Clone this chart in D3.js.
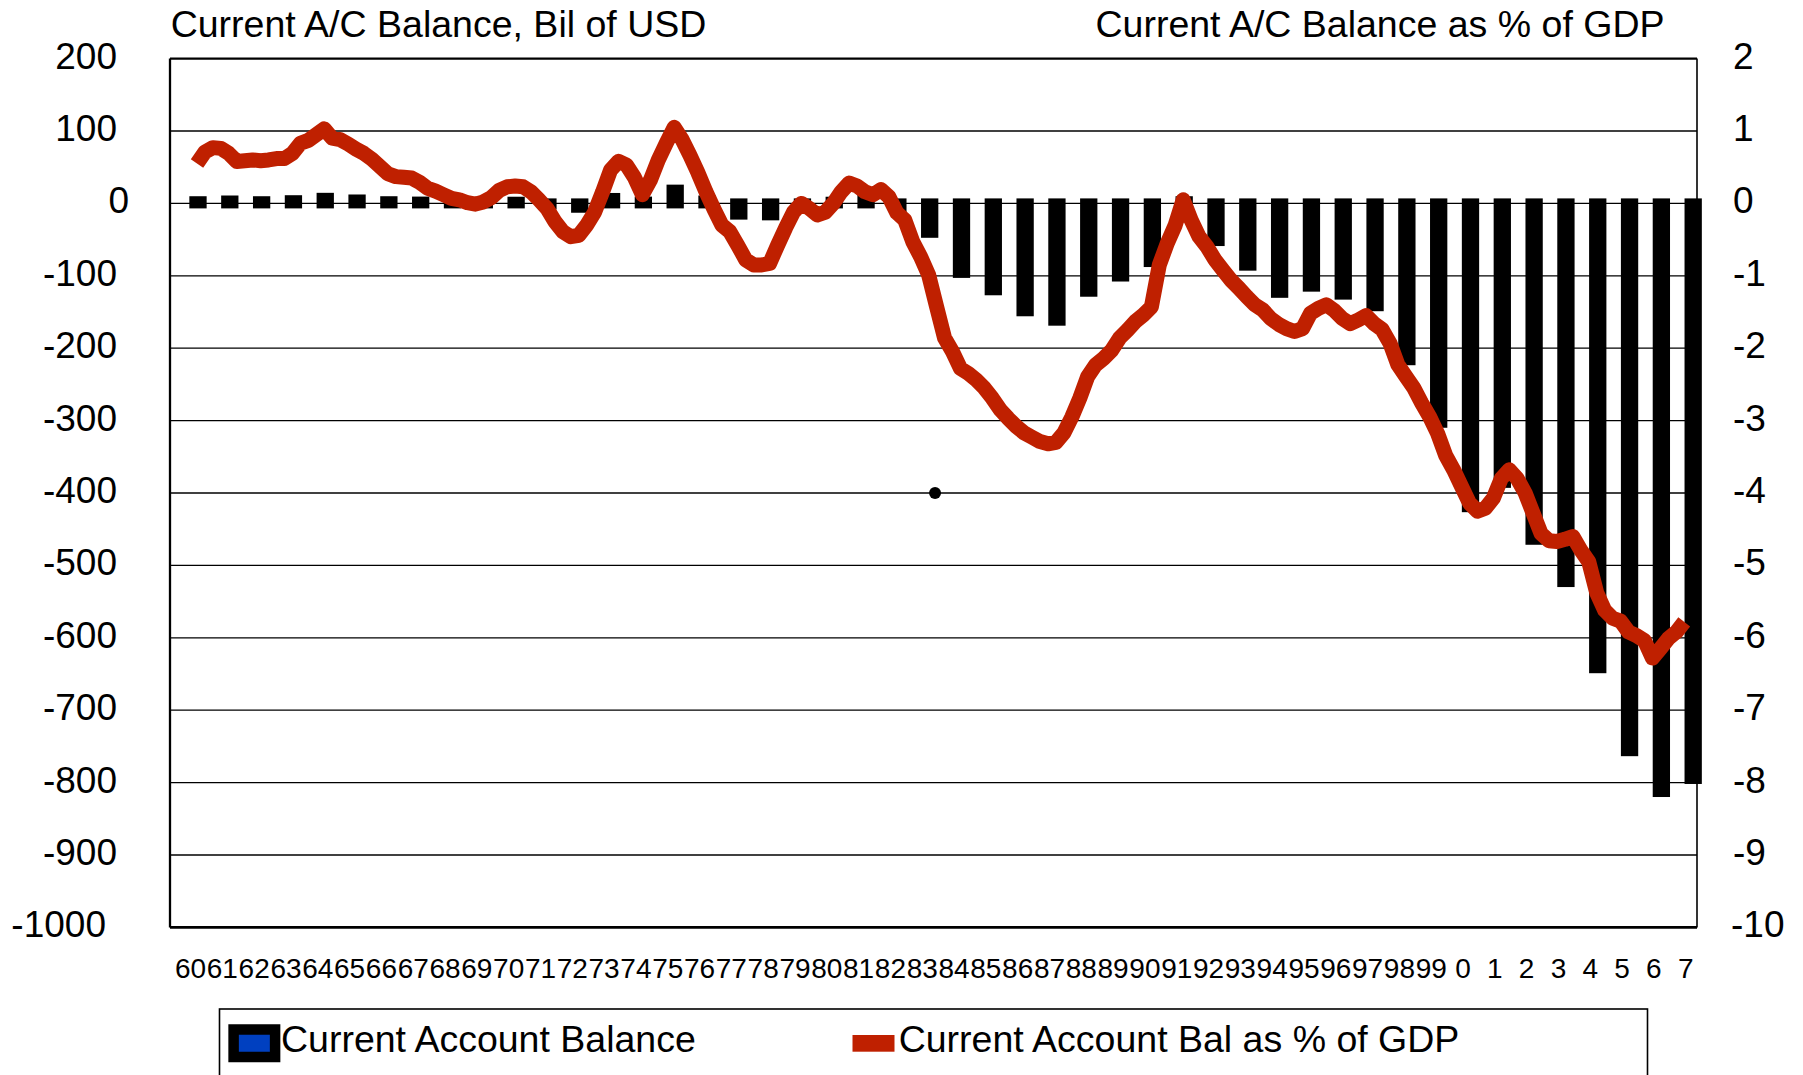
<!DOCTYPE html>
<html><head><meta charset="utf-8">
<script src="https://cdn.jsdelivr.net/npm/d3@7"></script>
<style>
body{margin:0;background:#fff}
svg{display:block}
text{font-family:"Liberation Sans",Arial,sans-serif;fill:#000}
</style>
</head><body>
<svg id="chart" width="1803" height="1075"></svg>
<script>
// ---------- DATA ----------
const categories = [1960,1961,1962,1963,1964,1965,1966,1967,1968,1969,
  1970,1971,1972,1973,1974,1975,1976,1977,1978,1979,
  1980,1981,1982,1983,1984,1985,1986,1987,1988,1989,
  1990,1991,1992,1993,1994,1995,1996,1997,1998,1999,
  2000,2001,2002,2003,2004,2005,2006,2007];
const tickLabels = ["60","61","62","63","64","65","66","67","68","69",
  "70","71","72","73","74","75","76","77","78","79",
  "80","81","82","83","84","85","86","87","88","89",
  "90","91","92","93","94","95","96","97","98","99",
  "0","1","2","3","4","5","6","7"];
// Current account balance, billions of USD (annual bars)
const balanceBil = [3,4,3,4.4,7.7,5.4,3,2.5,0.6,0.4,
  2.3,-1.4,-6,7.5,2.5,19,4,-15.5,-16.5,-0.3,
  2.3,5,-5.5,-40.6,-96,-120,-149,-162,-122,-101,
  -81,3,-52,-86,-123.5,-115,-126,-142,-216.6,-303,
  -419.6,-386,-464.6,-523,-642,-756.6,-813,-795];
// Current account balance as % of GDP, quarterly from 1960 Q1
const lineStartYear = 1960;
const pctGdpQuarterly = [
  0.55,0.71,0.77,0.76, 0.69,0.58,0.59,0.60, 0.59,0.60,0.62,0.62, 0.69,0.83,0.87,0.95,
  1.03,0.90,0.88,0.82, 0.75,0.69,0.61,0.51, 0.41,0.37,0.36,0.35, 0.29,0.21,0.17,0.12,
  0.07,0.05,0.01,-0.01, 0.02,0.08,0.18,0.23, 0.24,0.23,0.16,0.05, -0.07,-0.25,-0.39,-0.46,
  -0.44,-0.30,-0.12,0.16, 0.46,0.58,0.53,0.36, 0.12,0.32,0.60,0.83, 1.05,0.88,0.66,0.42,
  0.16,-0.08,-0.30,-0.39, -0.58,-0.78,-0.85,-0.85, -0.83,-0.58,-0.34,-0.12, 0.00,-0.07,-0.16,-0.12,
  0.00,0.16,0.28,0.24, 0.16,0.12,0.19,0.09, -0.13,-0.23,-0.53,-0.74, -0.99,-1.43,-1.86,-2.05,
  -2.28,-2.35,-2.44,-2.55, -2.69,-2.85,-2.97,-3.08, -3.17,-3.23,-3.29,-3.32, -3.30,-3.17,-2.95,-2.69,
  -2.39,-2.23,-2.14,-2.03, -1.86,-1.75,-1.63,-1.54, -1.43,-0.85,-0.55,-0.30, 0.05,-0.23,-0.46,-0.60,
  -0.78,-0.92,-1.06,-1.17, -1.29,-1.40,-1.47,-1.59, -1.67,-1.73,-1.77,-1.73, -1.52,-1.45,-1.40,-1.48,
  -1.59,-1.66,-1.61,-1.55, -1.66,-1.74,-1.93,-2.23, -2.39,-2.55,-2.76,-2.95, -3.18,-3.48,-3.68,-3.91,
  -4.14,-4.25,-4.21,-4.07, -3.80,-3.68,-3.80,-4.00, -4.28,-4.56,-4.66,-4.67, -4.64,-4.60,-4.79,-4.95,
  -5.38,-5.62,-5.73,-5.77, -5.92,-5.97,-6.04,-6.28, -6.15,-6.01,-5.92,-5.78];
// stray marker point in the original
const strayPoint = [{year:1983.2, value:-400}];
const leftTicks = [200,100,0,-100,-200,-300,-400,-500,-600,-700,-800,-900,-1000];
const rightTicks = [2,1,0,-1,-2,-3,-4,-5,-6,-7,-8,-9,-10];
const leftTitle = "Current A/C Balance, Bil of USD";
const rightTitle = "Current A/C Balance as % of GDP";
const legendItems = ["Current Account Balance","Current Account Bal as % of GDP"];

// ---------- LAYOUT ----------
const L = 170, R = 1697, T = 58.6, B = 927.4;
const RED = "#BF2000", BLUE = "#0040C0";
const FONT = '"Liberation Sans",Arial,sans-serif';
const svg = d3.select("#chart");

const x = d3.scaleBand().domain(categories).range([L, R]).padding(0);
const bw = x.bandwidth();
const barOffset = 0.88 * bw;     // bar centre inside its category slot
const labelOffset = 0.645 * bw;  // tick label centre inside slot
const y = d3.scaleLinear().domain([-1000, 200]).range([B, T]);
const y2 = d3.scaleLinear().domain([-10, 2]).range([B, T]);
const xt = d3.scaleLinear().domain([categories[0], categories[categories.length-1] + 1])
  .range([L + barOffset - 1, R + barOffset - 1]);

// gridlines
svg.append("g").selectAll("line")
  .data(leftTicks.filter(v => v !== 200 && v !== -1000))
  .join("line")
  .attr("x1", L).attr("x2", R)
  .attr("y1", d => y(d)).attr("y2", d => y(d))
  .attr("stroke", "#000").attr("stroke-width", 1.3);

// frame
const frame = svg.append("g").attr("stroke", "#000");
frame.append("line").attr("x1", L).attr("x2", R).attr("y1", y(200)).attr("y2", y(200)).attr("stroke-width", 2.3);
frame.append("line").attr("x1", L).attr("x2", R).attr("y1", y(-1000)).attr("y2", y(-1000)).attr("stroke-width", 2.6);
frame.append("line").attr("x1", L).attr("x2", L).attr("y1", T).attr("y2", B).attr("stroke-width", 2.3);
frame.append("line").attr("x1", R).attr("x2", R).attr("y1", T).attr("y2", B).attr("stroke-width", 1.6);

// bars
const innerW = 7.3;
svg.append("g").selectAll("rect")
  .data(categories.map((c, i) => ({c, v: balanceBil[i]})))
  .join("rect")
  .attr("x", d => x(d.c) + barOffset - innerW / 2)
  .attr("width", innerW)
  .attr("y", d => Math.min(y(d.v), y(0)))
  .attr("height", d => Math.abs(y(d.v) - y(0)))
  .attr("fill", BLUE).attr("stroke", "#000").attr("stroke-width", 10);

// line
const lineData = pctGdpQuarterly.map((v, i) => ({t: lineStartYear + i / 4, v}));
svg.append("path")
  .datum(lineData)
  .attr("fill", "none").attr("stroke", RED).attr("stroke-width", 15)
  .attr("stroke-linejoin", "round").attr("stroke-linecap", "butt")
  .attr("d", d3.line().x(d => xt(d.t)).y(d => y2(d.v)));

// stray dot
svg.append("g").selectAll("circle").data(strayPoint).join("circle")
  .attr("cx", d => xt(d.year)).attr("cy", d => y(d.value)).attr("r", 6).attr("fill", "#000");

const plain = d => String(d);

// left axis
const leftShift = new Map([[0, 12], [-1000, -11]]);
const gl = svg.append("g").attr("transform", `translate(${L},0)`)
  .call(d3.axisLeft(y).tickValues(leftTicks).tickSize(0).tickPadding(53).tickFormat(plain));
gl.select(".domain").remove();
gl.selectAll("text").attr("font-size", 37).attr("dy", 9.5)
  .attr("dx", d => leftShift.get(d) || 0)
  .style("font-family", FONT).attr("fill", "#000");

// right axis
const rightShift = new Map([[-10, -2]]);
const gr = svg.append("g").attr("transform", `translate(${R},0)`)
  .call(d3.axisRight(y2).tickValues(rightTicks).tickSize(0).tickPadding(36).tickFormat(plain));
gr.select(".domain").remove();
gr.selectAll("text").attr("font-size", 37).attr("dy", 9.5)
  .attr("dx", d => rightShift.get(d) || 0)
  .style("font-family", FONT).attr("fill", "#000");

// x axis
const gx = svg.append("g").attr("transform", `translate(${labelOffset - bw / 2},${B})`)
  .call(d3.axisBottom(x).tickSize(0).tickPadding(30.4).tickFormat((d, i) => tickLabels[i]));
gx.select(".domain").remove();
gx.selectAll("text").attr("font-size", 28)
  .style("font-family", FONT).attr("fill", "#000");

// titles
svg.append("text").attr("x", 170.7).attr("y", 36.7).attr("font-size", 37.5).text(leftTitle);
svg.append("text").attr("x", 1664.5).attr("y", 36.7).attr("font-size", 37.5)
  .attr("text-anchor", "end").text(rightTitle);

// legend
const lg = svg.append("g");
lg.append("rect").attr("x", 219.5).attr("y", 1009).attr("width", 1428).attr("height", 120)
  .attr("fill", "none").attr("stroke", "#000").attr("stroke-width", 1.6);
lg.append("rect").attr("x", 233.6).attr("y", 1029.5).attr("width", 41.5).attr("height", 27.5)
  .attr("fill", BLUE).attr("stroke", "#000").attr("stroke-width", 10.5);
lg.append("text").attr("x", 281).attr("y", 1051.7).attr("font-size", 37.5).text(legendItems[0]);
lg.append("rect").attr("x", 852.5).attr("y", 1035).attr("width", 42).attr("height", 16.7).attr("fill", RED);
lg.append("text").attr("x", 898.7).attr("y", 1051.7).attr("font-size", 37.5).text(legendItems[1]);
</script>
</body></html>
